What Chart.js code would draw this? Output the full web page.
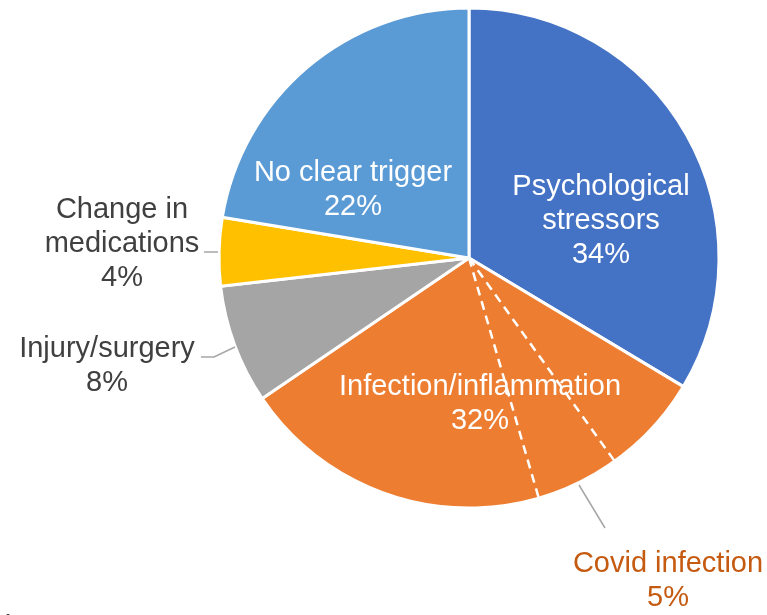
<!DOCTYPE html>
<html>
<head>
<meta charset="utf-8">
<script src="https://cdn.jsdelivr.net/npm/chart.js@4.4.1/dist/chart.umd.min.js"></script>
<style>
    body { margin: 0; background: #ffffff; }
    #wrap { width: 767px; height: 615px; position: relative; }
</style>
</head>
<body>
<div id="wrap"><canvas id="chart-triggers" width="767" height="615"></canvas></div>
<script>
// Datos del grafico
var triggers = ['Psychological stressors', 'Infection/inflammation', 'Injury/surgery', 'Change in medications', 'No clear trigger'];
var shares = [33.6, 31.9, 7.7, 4.4, 22.4];
var sliceColors = ['#4472c4', '#ed7d31', '#a5a5a5', '#ffc000', '#5b9bd5'];

// Covid es una parte de Infection/inflammation
var covidLabel = 'Covid infection';
var covidShare = 5.4;
var covidOffset = 6.5;   // parte de la infeccion antes de covid

var fontFamily = '"Liberation Sans", Arial, sans-serif';
var fontSize = 29;
var lineGap = 34;

// Etiquetas dentro y fuera del pastel
var labelLayout = [
    {lines: ['Psychological', 'stressors'], x: 601, y: 195, color: '#ffffff'},
    {lines: ['Infection/inflammation'], x: 480, y: 395, color: '#ffffff'},
    {lines: ['Injury/surgery'], x: 107, y: 357, color: '#404040', leader: [[201, 357], [214, 357], [235, 347]]},
    {lines: ['Change in', 'medications'], x: 122, y: 218, color: '#404040', leader: [[204, 252], [218, 252]]},
    {lines: ['No clear trigger'], x: 353, y: 181, color: '#ffffff'}
];
var covidLayout = {x: 668, y: 572, color: '#c55a11', leader: [[579, 485], [605, 528]]};

function drawLeader(ctx, pts) {
    ctx.save();
    ctx.strokeStyle = '#a6a6a6';
    ctx.lineWidth = 1.5;
    ctx.beginPath();
    pts.forEach((p, i) => {
        if (i === 0) ctx.moveTo(p[0], p[1]);
        else ctx.lineTo(p[0], p[1]);
    });
    ctx.stroke();
    ctx.restore();
}

function drawLines(ctx, lines, x, y, color) {
    ctx.fillStyle = color;
    lines.forEach((t, i) => {
        ctx.fillText(t, x, y + i * lineGap);
    });
}

// Plugin para lineas punteadas de covid y las etiquetas
var triggerLabels = {
    id: 'triggerLabels',
    afterDatasetsDraw(chart) {
        let ctx = chart.ctx;
        let meta = chart.getDatasetMeta(0);
        let total = shares.reduce((a, b) => a + b, 0);

        // Lineas punteadas dentro de infeccion
        let arc = meta.data[1];
        let a1 = arc.startAngle + covidOffset / total * Math.PI * 2;
        let a2 = a1 + covidShare / total * Math.PI * 2;
        ctx.save();
        ctx.strokeStyle = '#ffffff';
        ctx.lineWidth = 2.5;
        ctx.setLineDash([9, 6]);
        [a1, a2].forEach(a => {
            ctx.beginPath();
            ctx.moveTo(arc.x, arc.y);
            ctx.lineTo(arc.x + Math.cos(a) * arc.outerRadius, arc.y + Math.sin(a) * arc.outerRadius);
            ctx.stroke();
        });
        ctx.restore();

        ctx.save();
        ctx.font = fontSize + 'px ' + fontFamily;
        ctx.textAlign = 'center';
        ctx.textBaseline = 'alphabetic';

        labelLayout.forEach((lab, i) => {
            if (lab.leader) drawLeader(ctx, lab.leader);
            let pct = Math.round(shares[i]) + '%';
            drawLines(ctx, lab.lines.concat([pct]), lab.x, lab.y, lab.color);
        });

        drawLeader(ctx, covidLayout.leader);
        drawLines(ctx, [covidLabel, Math.round(covidShare) + '%'], covidLayout.x, covidLayout.y, covidLayout.color);

        // texto cortado abajo a la izquierda
        ctx.textAlign = 'left';
        ctx.fillStyle = '#404040';
        ctx.fillText('Is', 4, 634);
        ctx.restore();
    }
};

function triggerChart() {
    let ctx = document.getElementById('chart-triggers').getContext('2d');

    new Chart(ctx, {
        type: 'pie',
        data: {
            labels: triggers,
            datasets: [{
                data: shares,
                backgroundColor: sliceColors,
                borderColor: '#ffffff',
                borderWidth: 3
            }]
        },
        options: {
            responsive: false,
            animation: false,
            radius: 250,
            layout: {
                padding: {left: 217, right: 46, top: 6, bottom: 105}
            },
            plugins: {
                legend: { display: false },
                tooltip: { enabled: false }
            }
        },
        plugins: [triggerLabels]
    });
}

triggerChart();
</script>
</body>
</html>
